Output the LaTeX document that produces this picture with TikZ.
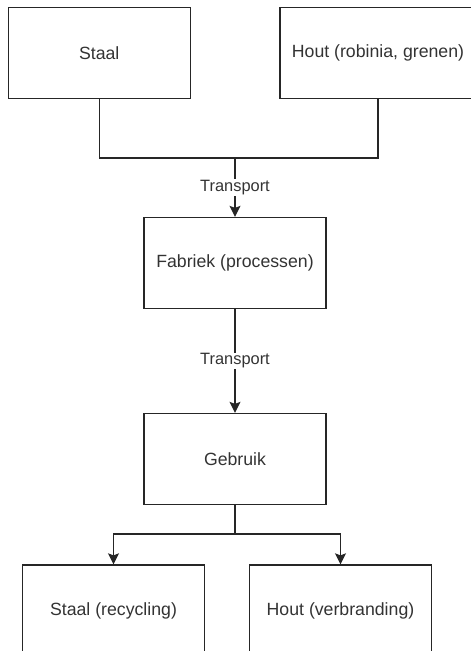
\documentclass[tikz,border=0pt]{standalone}
\usepackage{fontspec}
\setmainfont{Liberation Sans}
\usetikzlibrary{arrows.meta}
\begin{document}
\begin{tikzpicture}[x=1pt,y=-1pt,
 blok/.style={draw=black!85,line width=1.3pt,minimum width=182pt,minimum height=91pt,inner sep=0pt,
  text=black!80,font=\fontsize{17.7}{20}\selectfont},
 pijl/.style={draw=black!85,line width=1.3pt,-{Stealth[length=11pt,width=11pt,inset=2pt]}},
 lijn/.style={draw=black!85,line width=1.3pt},
 etiket/.style={fill=white,inner sep=1pt,text=black!80,font=\fontsize{16.4}{18}\selectfont}]
 \useasboundingbox (0,0) rectangle (471,651);
 \clip (0,0) rectangle (471,651);
 % grondstoffen
 \node[blok] (staal) at (99.25,52.75) {Staal};
 \node[blok,minimum width=196pt] (hout) at (378,52.75) {Hout (robinia, grenen)};
 \node[blok] (fabriek) at (235,263) {Fabriek (processen)};
 \node[blok] (gebruik) at (235,459) {Gebruik};
 \node[blok] (recycling) at (113.5,610.5) {Staal (recycling)};
 \node[blok] (verbranding) at (340.5,610.5) {Hout (verbranding)};
 \coordinate (samen) at (235,158);
 \coordinate (splits) at (235,534);
 % verbindingen
 \draw[lijn] (staal.south) -- (staal.south |- samen) -- (hout.south |- samen) -- (hout.south);
 \draw[pijl] (samen) -- node[etiket]{Transport} (fabriek.north);
 \draw[pijl] (fabriek.south) -- node[etiket]{Transport} (gebruik.north);
 \draw[lijn] (gebruik.south) -- (splits);
 \draw[pijl] (splits) -| (recycling.north);
 \draw[pijl] (splits) -| (verbranding.north);
\end{tikzpicture}
\end{document}
